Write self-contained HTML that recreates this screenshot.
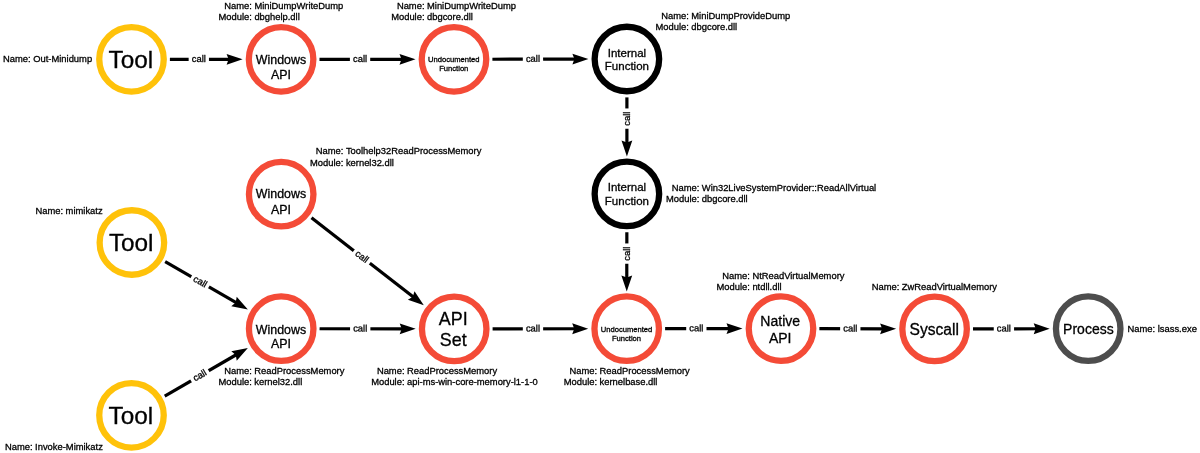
<!DOCTYPE html>
<html><head><meta charset="utf-8"><style>
html,body{margin:0;padding:0;background:#fff;width:1200px;height:453px;overflow:hidden}
svg{display:block;font-family:"Liberation Sans",sans-serif;will-change:transform}
text{fill:#000;stroke:#000;stroke-width:0.3px}
</style></head><body>
<svg width="1200" height="453" viewBox="0 0 1200 453" font-family="Liberation Sans, sans-serif">
<circle cx="131.5" cy="59.3" r="32.25" fill="#fff" stroke="#FFC20A" stroke-width="6.3"/>
<circle cx="281.1" cy="59.3" r="32.25" fill="#fff" stroke="#F44B37" stroke-width="6.3"/>
<circle cx="454.0" cy="59.3" r="32.25" fill="#fff" stroke="#F44B37" stroke-width="6.3"/>
<circle cx="626.9" cy="59.0" r="32.25" fill="#fff" stroke="#000000" stroke-width="6.3"/>
<circle cx="626.9" cy="193.9" r="32.25" fill="#fff" stroke="#000000" stroke-width="6.3"/>
<circle cx="281.2" cy="194.2" r="32.25" fill="#fff" stroke="#F44B37" stroke-width="6.3"/>
<circle cx="131.9" cy="242.5" r="32.25" fill="#fff" stroke="#FFC20A" stroke-width="6.3"/>
<circle cx="281.2" cy="328.7" r="32.25" fill="#fff" stroke="#F44B37" stroke-width="6.3"/>
<circle cx="454.2" cy="328.9" r="32.25" fill="#fff" stroke="#F44B37" stroke-width="6.3"/>
<circle cx="626.7" cy="328.7" r="32.25" fill="#fff" stroke="#F44B37" stroke-width="6.3"/>
<circle cx="781.0" cy="328.6" r="32.25" fill="#fff" stroke="#F44B37" stroke-width="6.3"/>
<circle cx="934.6" cy="328.9" r="32.25" fill="#fff" stroke="#F44B37" stroke-width="6.3"/>
<circle cx="1088.2" cy="328.7" r="32.25" fill="#fff" stroke="#4D4D4D" stroke-width="6.3"/>
<circle cx="131.5" cy="415.3" r="32.25" fill="#fff" stroke="#FFC20A" stroke-width="6.3"/>
<line x1="169.90" y1="59.30" x2="232.60" y2="59.30" stroke="#000" stroke-width="3.2"/>
<g transform="translate(242.60,59.30) rotate(0.000)"><path d="M0,0 L-16.0,-5.4 L-14.0,0 L-16.0,5.4 Z" fill="#000"/></g>
<g transform="translate(198.80,59.30) rotate(0.000)"><rect x="-10.15" y="-6" width="20.3" height="12" fill="#fff"/><text x="0" y="2.7" font-size="9.4" text-anchor="middle">call</text></g>
<line x1="319.50" y1="59.30" x2="405.50" y2="59.30" stroke="#000" stroke-width="3.2"/>
<g transform="translate(415.50,59.30) rotate(0.000)"><path d="M0,0 L-16.0,-5.4 L-14.0,0 L-16.0,5.4 Z" fill="#000"/></g>
<g transform="translate(360.05,59.30) rotate(0.000)"><rect x="-10.15" y="-6" width="20.3" height="12" fill="#fff"/><text x="0" y="2.7" font-size="9.4" text-anchor="middle">call</text></g>
<line x1="492.40" y1="59.23" x2="578.40" y2="59.08" stroke="#000" stroke-width="3.2"/>
<g transform="translate(588.40,59.07) rotate(-0.099)"><path d="M0,0 L-16.0,-5.4 L-14.0,0 L-16.0,5.4 Z" fill="#000"/></g>
<g transform="translate(532.95,59.16) rotate(-0.099)"><rect x="-10.15" y="-6" width="20.3" height="12" fill="#fff"/><text x="0" y="2.7" font-size="9.4" text-anchor="middle">call</text></g>
<line x1="626.90" y1="97.40" x2="626.90" y2="146.60" stroke="#000" stroke-width="3.2"/>
<g transform="translate(626.90,156.60) rotate(90.000)"><path d="M0,0 L-16.0,-5.4 L-14.0,0 L-16.0,5.4 Z" fill="#000"/></g>
<g transform="translate(626.90,118.60) rotate(-90.000)"><rect x="-10.15" y="-6" width="20.3" height="12" fill="#fff"/><text x="0" y="2.7" font-size="9.4" text-anchor="middle">call</text></g>
<line x1="626.84" y1="232.30" x2="626.77" y2="281.40" stroke="#000" stroke-width="3.2"/>
<g transform="translate(626.76,291.40) rotate(90.085)"><path d="M0,0 L-16.0,-5.4 L-14.0,0 L-16.0,5.4 Z" fill="#000"/></g>
<g transform="translate(626.81,253.60) rotate(-90.000)"><rect x="-10.15" y="-6" width="20.3" height="12" fill="#fff"/><text x="0" y="2.7" font-size="9.4" text-anchor="middle">call</text></g>
<line x1="311.50" y1="217.79" x2="415.93" y2="299.10" stroke="#000" stroke-width="3.2"/>
<g transform="translate(423.82,305.25) rotate(37.905)"><path d="M0,0 L-16.0,-5.4 L-14.0,0 L-16.0,5.4 Z" fill="#000"/></g>
<g transform="translate(361.78,256.94) rotate(37.905)"><rect x="-10.15" y="-6" width="20.3" height="12" fill="#fff"/><text x="0" y="2.7" font-size="9.4" text-anchor="middle">call</text></g>
<line x1="165.16" y1="261.70" x2="239.20" y2="304.45" stroke="#000" stroke-width="3.2"/>
<g transform="translate(247.86,309.45) rotate(30.000)"><path d="M0,0 L-16.0,-5.4 L-14.0,0 L-16.0,5.4 Z" fill="#000"/></g>
<g transform="translate(200.05,281.85) rotate(30.000)"><rect x="-10.15" y="-6" width="20.3" height="12" fill="#fff"/><text x="0" y="2.7" font-size="9.4" text-anchor="middle">call</text></g>
<line x1="164.74" y1="396.07" x2="239.22" y2="352.99" stroke="#000" stroke-width="3.2"/>
<g transform="translate(247.87,347.98) rotate(-30.049)"><path d="M0,0 L-16.0,-5.4 L-14.0,0 L-16.0,5.4 Z" fill="#000"/></g>
<g transform="translate(199.86,375.76) rotate(-30.049)"><rect x="-10.15" y="-6" width="20.3" height="12" fill="#fff"/><text x="0" y="2.7" font-size="9.4" text-anchor="middle">call</text></g>
<line x1="319.60" y1="328.74" x2="405.70" y2="328.84" stroke="#000" stroke-width="3.2"/>
<g transform="translate(415.70,328.86) rotate(0.066)"><path d="M0,0 L-16.0,-5.4 L-14.0,0 L-16.0,5.4 Z" fill="#000"/></g>
<g transform="translate(360.20,328.79) rotate(0.066)"><rect x="-10.15" y="-6" width="20.3" height="12" fill="#fff"/><text x="0" y="2.7" font-size="9.4" text-anchor="middle">call</text></g>
<line x1="492.60" y1="328.86" x2="578.20" y2="328.76" stroke="#000" stroke-width="3.2"/>
<g transform="translate(588.20,328.74) rotate(-0.066)"><path d="M0,0 L-16.0,-5.4 L-14.0,0 L-16.0,5.4 Z" fill="#000"/></g>
<g transform="translate(532.95,328.81) rotate(-0.066)"><rect x="-10.15" y="-6" width="20.3" height="12" fill="#fff"/><text x="0" y="2.7" font-size="9.4" text-anchor="middle">call</text></g>
<line x1="665.10" y1="328.68" x2="732.50" y2="328.63" stroke="#000" stroke-width="3.2"/>
<g transform="translate(742.50,328.62) rotate(-0.037)"><path d="M0,0 L-16.0,-5.4 L-14.0,0 L-16.0,5.4 Z" fill="#000"/></g>
<g transform="translate(696.35,328.65) rotate(-0.037)"><rect x="-10.15" y="-6" width="20.3" height="12" fill="#fff"/><text x="0" y="2.7" font-size="9.4" text-anchor="middle">call</text></g>
<line x1="819.40" y1="328.67" x2="886.10" y2="328.81" stroke="#000" stroke-width="3.2"/>
<g transform="translate(896.10,328.82) rotate(0.112)"><path d="M0,0 L-16.0,-5.4 L-14.0,0 L-16.0,5.4 Z" fill="#000"/></g>
<g transform="translate(850.30,328.74) rotate(0.112)"><rect x="-10.15" y="-6" width="20.3" height="12" fill="#fff"/><text x="0" y="2.7" font-size="9.4" text-anchor="middle">call</text></g>
<line x1="973.00" y1="328.85" x2="1039.70" y2="328.76" stroke="#000" stroke-width="3.2"/>
<g transform="translate(1049.70,328.75) rotate(-0.075)"><path d="M0,0 L-16.0,-5.4 L-14.0,0 L-16.0,5.4 Z" fill="#000"/></g>
<g transform="translate(1003.90,328.81) rotate(-0.075)"><rect x="-10.15" y="-6" width="20.3" height="12" fill="#fff"/><text x="0" y="2.7" font-size="9.4" text-anchor="middle">call</text></g>
<text x="130.8" y="68.1" font-size="24.3" text-anchor="middle">Tool</text>
<text x="131.2" y="251.2" font-size="24.3" text-anchor="middle">Tool</text>
<text x="130.9" y="424.2" font-size="24.3" text-anchor="middle">Tool</text>
<text x="281.0" y="63.7" font-size="12.4" text-anchor="middle">Windows</text>
<text x="281.0" y="79.0" font-size="12.4" text-anchor="middle">API</text>
<text x="281.0" y="198.4" font-size="12.4" text-anchor="middle">Windows</text>
<text x="281.0" y="214.2" font-size="12.4" text-anchor="middle">API</text>
<text x="281.0" y="333.8" font-size="12.4" text-anchor="middle">Windows</text>
<text x="281.0" y="348.3" font-size="12.4" text-anchor="middle">API</text>
<text x="453.8" y="62.3" font-size="7.6" text-anchor="middle">Undocumented</text>
<text x="453.8" y="71.2" font-size="7.6" text-anchor="middle">Function</text>
<text x="626.5" y="331.6" font-size="7.6" text-anchor="middle">Undocumented</text>
<text x="626.5" y="340.7" font-size="7.6" text-anchor="middle">Function</text>
<text x="626.9" y="56.6" font-size="11.5" text-anchor="middle">Internal</text>
<text x="626.9" y="70.4" font-size="11.5" text-anchor="middle">Function</text>
<text x="626.9" y="191.3" font-size="11.5" text-anchor="middle">Internal</text>
<text x="626.9" y="205.0" font-size="11.5" text-anchor="middle">Function</text>
<text x="453.2" y="324.5" font-size="17.9" text-anchor="middle">API</text>
<text x="453.2" y="345.8" font-size="17.9" text-anchor="middle">Set</text>
<text x="780.2" y="325.9" font-size="14" text-anchor="middle">Native</text>
<text x="780.2" y="342.8" font-size="14" text-anchor="middle">API</text>
<text x="934.2" y="334.7" font-size="15.6" text-anchor="middle">Syscall</text>
<text x="1088.4" y="333.6" font-size="14" text-anchor="middle">Process</text>
<text x="3" y="62.1" font-size="9.4">Name: Out-Minidump</text>
<text x="251.90" y="8.80" font-size="9.4" text-anchor="end">Name:</text>
<text x="254.40" y="8.80" font-size="9.4">MiniDumpWriteDump</text>
<text x="251.90" y="19.90" font-size="9.4" text-anchor="end">Module:</text>
<text x="254.40" y="19.90" font-size="9.4">dbghelp.dll</text>
<text x="424.50" y="9.10" font-size="9.4" text-anchor="end">Name:</text>
<text x="427.00" y="9.10" font-size="9.4">MiniDumpWriteDump</text>
<text x="424.50" y="20.20" font-size="9.4" text-anchor="end">Module:</text>
<text x="427.00" y="20.20" font-size="9.4">dbgcore.dll</text>
<text x="688.80" y="19.30" font-size="9.4" text-anchor="end">Name:</text>
<text x="691.30" y="19.30" font-size="9.4">MiniDumpProvideDump</text>
<text x="688.80" y="30.40" font-size="9.4" text-anchor="end">Module:</text>
<text x="691.30" y="30.40" font-size="9.4">dbgcore.dll</text>
<text x="343.40" y="154.40" font-size="9.4" text-anchor="end">Name:</text>
<text x="345.90" y="154.40" font-size="9.4">Toolhelp32ReadProcessMemory</text>
<text x="343.40" y="165.50" font-size="9.4" text-anchor="end">Module:</text>
<text x="345.90" y="165.50" font-size="9.4">kernel32.dll</text>
<text x="699.30" y="191.30" font-size="9.4" text-anchor="end">Name:</text>
<text x="701.80" y="191.30" font-size="9.4">Win32LiveSystemProvider::ReadAllVirtual</text>
<text x="699.30" y="202.40" font-size="9.4" text-anchor="end">Module:</text>
<text x="701.80" y="202.40" font-size="9.4">dbgcore.dll</text>
<text x="63.10" y="213.60" font-size="9.4" text-anchor="end">Name:</text>
<text x="65.60" y="213.60" font-size="9.4">mimikatz</text>
<text x="32.60" y="449.60" font-size="9.4" text-anchor="end">Name:</text>
<text x="35.10" y="449.60" font-size="9.4">Invoke-Mimikatz</text>
<text x="251.80" y="373.80" font-size="9.4" text-anchor="end">Name:</text>
<text x="254.30" y="373.80" font-size="9.4">ReadProcessMemory</text>
<text x="251.80" y="384.90" font-size="9.4" text-anchor="end">Module:</text>
<text x="254.30" y="384.90" font-size="9.4">kernel32.dll</text>
<text x="404.50" y="374.00" font-size="9.4" text-anchor="end">Name:</text>
<text x="407.00" y="374.00" font-size="9.4">ReadProcessMemory</text>
<text x="404.50" y="385.10" font-size="9.4" text-anchor="end">Module:</text>
<text x="407.00" y="385.10" font-size="9.4">api-ms-win-core-memory-l1-1-0</text>
<text x="597.10" y="374.00" font-size="9.4" text-anchor="end">Name:</text>
<text x="599.60" y="374.00" font-size="9.4">ReadProcessMemory</text>
<text x="597.10" y="385.10" font-size="9.4" text-anchor="end">Module:</text>
<text x="599.60" y="385.10" font-size="9.4">kernelbase.dll</text>
<text x="749.90" y="278.70" font-size="9.4" text-anchor="end">Name:</text>
<text x="752.40" y="278.70" font-size="9.4">NtReadVirtualMemory</text>
<text x="749.90" y="289.80" font-size="9.4" text-anchor="end">Module:</text>
<text x="752.40" y="289.80" font-size="9.4">ntdll.dll</text>
<text x="899.30" y="289.70" font-size="9.4" text-anchor="end">Name:</text>
<text x="901.80" y="289.70" font-size="9.4">ZwReadVirtualMemory</text>
<text x="1127.55" y="332.2" font-size="9.4">Name: lsass.exe</text>
</svg>
</body></html>
